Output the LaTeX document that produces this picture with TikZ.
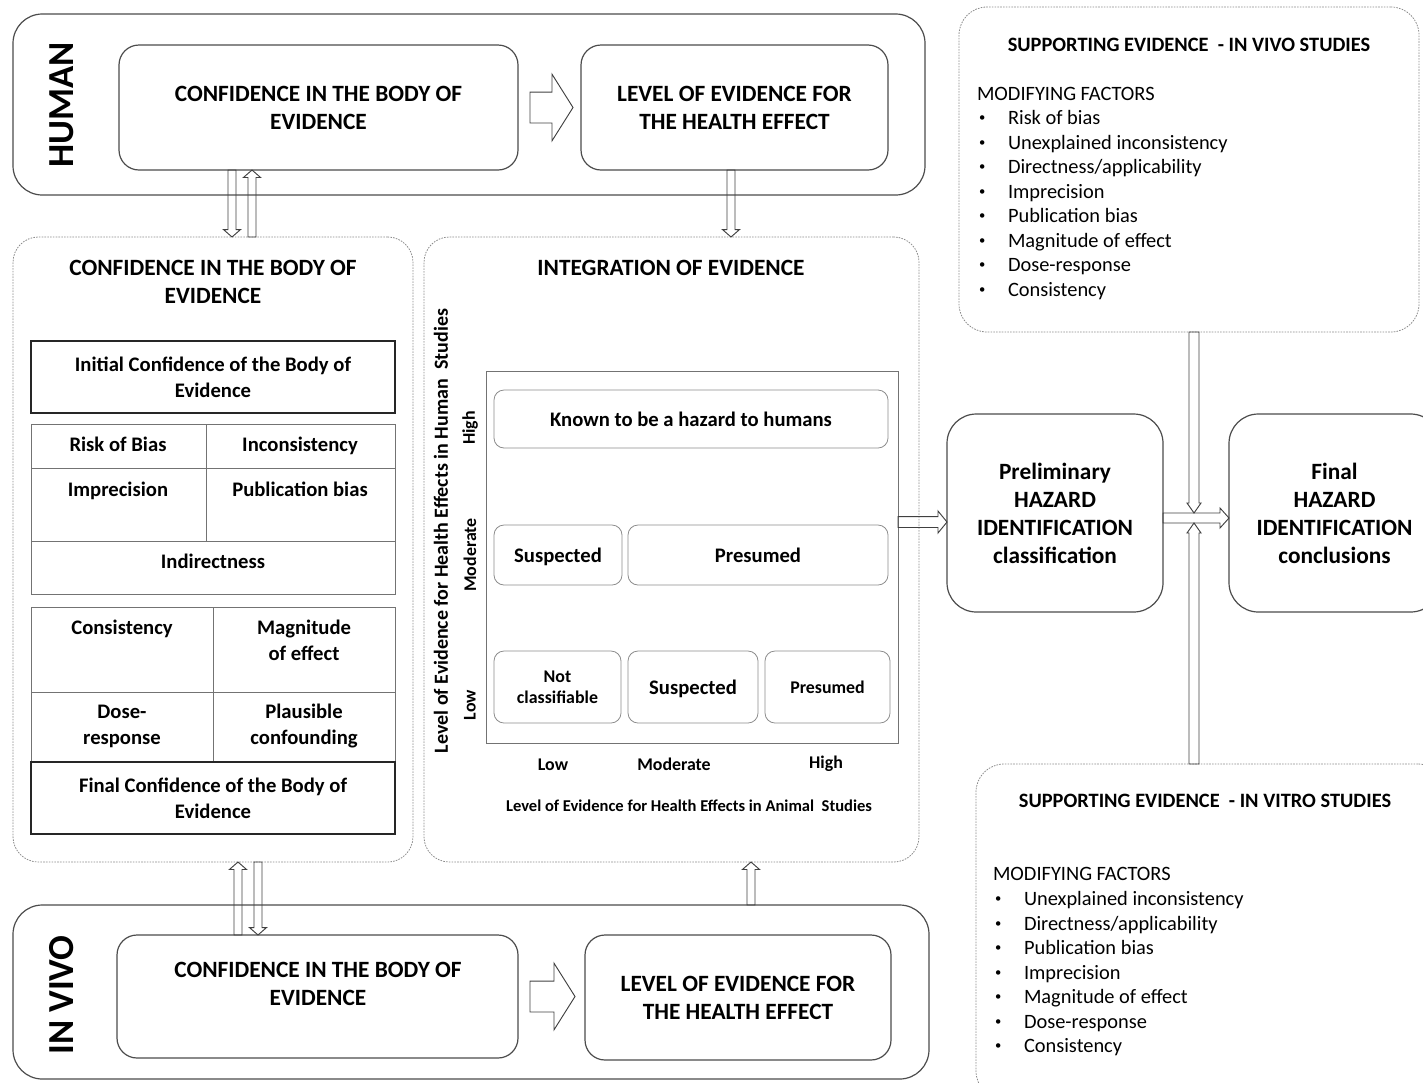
\documentclass[tikz,border=0pt]{standalone}
\usepackage{fontspec}
\usepackage{graphicx}
\setmainfont{Carlito}
\usetikzlibrary{calc}

\newcommand{\smallbullet}{\raisebox{0.13em}{\scalebox{0.62}{\textbullet}}}

\tikzset{
  pxsize/.style 2 args={minimum width=#1*0.75pt, minimum height=#2*0.75pt},
  outerbox/.style={draw=black!70, line width=0.9pt, rounded corners=22pt, anchor=north west},
  innerbox/.style={draw=black!70, line width=0.9pt, rounded corners=15pt, anchor=north west},
  bigbox/.style={draw=black!70, line width=0.9pt, rounded corners=22pt, anchor=north west},
  panel/.style={draw=black!45, line width=0.6pt, dash pattern=on 1.2pt off 0.9pt, rounded corners=19pt, anchor=north west},
  cell/.style={draw=black!55, line width=0.6pt, anchor=north west},
  strongcell/.style={draw=black!85, line width=0.9pt, anchor=north west},
  tile/.style={draw=black!45, line width=0.6pt, rounded corners=7.5pt, anchor=north west},
  onelineA/.style={text height=13pt, text depth=2pt},
  onelineB/.style={text height=11.3pt, text depth=1.7pt},
  fhuge/.style={font=\fontsize{27.5}{33}\selectfont\bfseries},
  fbig/.style={font=\fontsize{17.5}{21}\selectfont\bfseries, align=center},
  fcell/.style={font=\fontsize{15.5}{19.5}\selectfont\bfseries, align=center},
  celllbl/.style={font=\fontsize{15.5}{19.5}\selectfont\bfseries, anchor=base},
  fsmall/.style={font=\fontsize{13.4}{16}\selectfont\bfseries, align=center},
  fylab/.style={font=\fontsize{15}{18}\selectfont\bfseries},
  fxlab/.style={font=\fontsize{12.4}{15}\selectfont\bfseries},
  flist/.style={font=\fontsize{15.3}{18.4}\selectfont, anchor=base west},
  fsup/.style={font=\fontsize{15.3}{18.4}\selectfont\bfseries},
  hollow/.style={draw=black!75, line width=0.7pt, line join=miter},
  % outlined block arrow: body half width, head half width, head length
  blockarrow/.style n args={3}{
    to path={
      ($(\tikztostart)!#1!90:(\tikztotarget)$)
      -- ($(\tikztotarget)!#3!(\tikztostart)!#1!90:(\tikztotarget)$)
      -- ($(\tikztotarget)!#3!(\tikztostart)!#2!90:(\tikztotarget)$)
      -- (\tikztotarget)
      -- ($(\tikztotarget)!#3!(\tikztostart)!#2!-90:(\tikztotarget)$)
      -- ($(\tikztotarget)!#3!(\tikztostart)!#1!-90:(\tikztotarget)$)
      -- ($(\tikztostart)!#1!-90:(\tikztotarget)$)
      -- cycle
    }
  },
}

\begin{document}
\begin{tikzpicture}[x=0.75pt, y=-0.75pt, every node/.style={inner sep=0pt, outer sep=0pt}]
\useasboundingbox (0,0) rectangle (1423,1082);
\clip (0,0) rectangle (1423,1082);

% ---------- HUMAN stream ----------
\node[outerbox, pxsize={912}{181}] (human) at (13,14) {};
\node[fhuge, rotate=90] (humanlbl) at (62,105) {HUMAN};
\node[innerbox, fbig, pxsize={399}{125}] (hconf) at (119,45) {CONFIDENCE IN THE BODY OF\\EVIDENCE};
\node[innerbox, fbig, pxsize={307}{125}] (hlevel) at (581,45) {LEVEL OF EVIDENCE FOR\\THE HEALTH EFFECT};

% ---------- confidence panel ----------
\node[panel, pxsize={400}{625}] (lpanel) at (13,237) {};
\node[fbig] (ltitle) at (213,281.5) {CONFIDENCE IN THE BODY OF\\EVIDENCE};
\node[strongcell, fcell, pxsize={364}{72}] (init) at (31,341) {Initial Confidence of the Body of\\Evidence};

\node[cell, pxsize={175}{44}] (rob) at (31,424) {};
\node[cell, pxsize={189}{44}] (inc) at (206,424) {};
\node[cell, pxsize={175}{73}] (imp) at (31,468) {};
\node[cell, pxsize={189}{73}] (pub) at (206,468) {};
\node[cell, pxsize={364}{53}] (ind) at (31,541) {};
\node[celllbl] (t-rob) at (118,451.5) {Risk of Bias};
\node[celllbl] (t-inc) at (300,451.5) {Inconsistency};
\node[celllbl] (t-imp) at (118,496.5) {Imprecision};
\node[celllbl] (t-pub) at (300,496.5) {Publication bias};
\node[celllbl] (t-ind) at (213,568.5) {Indirectness};

\node[cell, pxsize={182}{85}] (cons) at (31,607) {};
\node[cell, pxsize={182}{85}] (mag) at (213,607) {};
\node[cell, pxsize={182}{70}] (dose) at (31,692) {};
\node[cell, pxsize={182}{70}] (plaus) at (213,692) {};
\node[strongcell, fcell, pxsize={364}{72}] (final-conf) at (31,762) {Final Confidence of the Body of\\Evidence};
\node[celllbl] (t-cons) at (122,634.5) {Consistency};
\node[fcell] (t-mag) at (304,640) {Magnitude\\of effect};
\node[fcell] (t-dose) at (122,726) {Dose-\\response};
\node[fcell] (t-plaus) at (304,726) {Plausible\\confounding};

% ---------- integration panel ----------
\node[panel, pxsize={495}{625}] (ipanel) at (424,237) {};
\node[fbig] (ititle) at (671,268) {INTEGRATION OF EVIDENCE};
\node[fylab, rotate=90] (ylab) at (441,531) {Level of Evidence for Health Effects in Human\ \ Studies};
\node[fsmall, rotate=90] (r-high) at (470,428) {High};
\node[fsmall, rotate=90] (r-mod) at (470,555) {Moderate};
\node[fsmall, rotate=90] (r-low) at (470,705) {Low};
\node[cell, pxsize={412}{372}] (igrid) at (486,371) {};
\node[tile, fcell, onelineA, pxsize={394}{58}] (known) at (494,390) {Known to be a hazard to humans};
\node[tile, fcell, onelineA, pxsize={128}{60}] (susp1) at (494,525) {Suspected};
\node[tile, fcell, onelineA, pxsize={260}{60}] (pres1) at (628,525) {Presumed};
\node[tile, fsmall, pxsize={127}{72}] (notc) at (494,651) {Not\\classifiable};
\node[tile, fcell, onelineA, pxsize={130}{72}] (susp2) at (628,651) {Suspected};
\node[tile, fsmall, onelineB, pxsize={125}{72}] (pres2) at (765,651) {Presumed};
\node[fsmall, onelineB] (c-low) at (553,764) {Low};
\node[fsmall, onelineB] (c-mod) at (674,764) {Moderate};
\node[fsmall, onelineB] (c-high) at (826,762) {High};
\node[fxlab] (xlab) at (689,806) {Level of Evidence for Health Effects in Animal\ \ Studies};

% ---------- hazard identification ----------
\node[bigbox, fbig, pxsize={216}{198}] (prelim) at (947,414) {Preliminary\\HAZARD\\IDENTIFICATION\\classification};
\node[bigbox, fbig, pxsize={211}{198}] (final) at (1229,414) {Final\\HAZARD\\IDENTIFICATION\\conclusions};

% ---------- supporting evidence ----------
\node[panel, rounded corners=21pt, pxsize={460}{325}] (svivo) at (959,7) {};
\node[fsup] (svivo-title) at (1189,45) {SUPPORTING EVIDENCE\ \ - IN VIVO STUDIES};
\node[flist] (svivo-head) at (977,100.5) {MODIFYING FACTORS};
\foreach \t [count=\i] in {Risk of bias, Unexplained inconsistency, Directness/applicability, Imprecision, Publication bias, Magnitude of effect, Dose-response, Consistency} {
  \node[flist] (svb\i) at (979,{100+24.5*\i}) {\smallbullet};
  \node[flist] (svi\i) at (1008,{100+24.5*\i}) {\t};
}

\node[panel, rounded corners=21pt, pxsize={470}{335}] (svitro) at (976,764) {};
\node[fsup] (svitro-title) at (1205,801) {SUPPORTING EVIDENCE\ \ - IN VITRO STUDIES};
\node[flist] (svitro-head) at (993,880.5) {MODIFYING FACTORS};
\foreach \t [count=\i] in {Unexplained inconsistency, Directness/applicability, Publication bias, Imprecision, Magnitude of effect, Dose-response, Consistency} {
  \node[flist] (stb\i) at (995,{881+24.5*\i}) {\smallbullet};
  \node[flist] (sti\i) at (1024,{881+24.5*\i}) {\t};
}

% ---------- IN VIVO stream ----------
\node[outerbox, pxsize={916}{174}] (vivo) at (13,905) {};
\node[fhuge, rotate=90] (vivolbl) at (62,995) {IN VIVO};
\node[innerbox, pxsize={401}{123}] (vconf) at (117,935) {};
\node[fbig] (t-vconf) at (318,984) {CONFIDENCE IN THE BODY OF\\EVIDENCE};
\node[innerbox, fbig, pxsize={306}{125}] (vlevel) at (585,935) {LEVEL OF EVIDENCE FOR\\THE HEALTH EFFECT};

% ---------- connectors ----------
\coordinate (xa) at (232,0);
\coordinate (xb) at (252,0);
\coordinate (xc) at (731,0);
\coordinate (xd) at (238,0);
\coordinate (xe) at (258,0);
\coordinate (xf) at (751,0);
\coordinate (jx) at (1194,0);

\coordinate (ha1) at ($(hconf.east)+(12,0)$);
\coordinate (ha2) at ($(hlevel.west)+(-8,0)$);
\draw[hollow] (ha1) to[blockarrow={11.6pt}{25pt}{15.75pt}] (ha2);

\coordinate (va1) at ($(vconf.east)+(12,0)$);
\coordinate (va2) at ($(va1 -| vlevel.west)+(-10,0)$);
\draw[hollow] (va1) to[blockarrow={11.6pt}{25pt}{15.75pt}] (va2);

\draw[hollow] (hconf.south -| xa) to[blockarrow={3pt}{6.4pt}{5.6pt}] (lpanel.north -| xa);
\draw[hollow] (lpanel.north -| xb) to[blockarrow={3pt}{6.4pt}{5.6pt}] (hconf.south -| xb);
\draw[hollow] (hlevel.south -| xc) to[blockarrow={3pt}{6.4pt}{5.6pt}] (ipanel.north -| xc);

\draw[hollow] (vconf.north -| xd) to[blockarrow={3pt}{6.4pt}{5.6pt}] (lpanel.south -| xd);
\draw[hollow] (lpanel.south -| xe) to[blockarrow={3pt}{6.4pt}{5.6pt}] (vconf.north -| xe);
\draw[hollow] (vivo.north -| xf) to[blockarrow={3pt}{6.4pt}{5.6pt}] (ipanel.south -| xf);

\coordinate (pin) at ($(prelim.west)+(0,9)$);
\draw[hollow] (igrid.east |- pin) to[blockarrow={4.1pt}{8.25pt}{6.75pt}] (pin);

\coordinate (pout) at ($(prelim.east)+(0,5)$);
\coordinate (jtop) at ($(pout -| jx)+(0,-5)$);
\coordinate (jbot) at ($(pout -| jx)+(0,5)$);
\draw[hollow] (svivo.south -| jx) to[blockarrow={3.75pt}{5.25pt}{7.5pt}] (jtop);
\draw[hollow] (svitro.north -| jx) to[blockarrow={3.75pt}{5.25pt}{7.5pt}] (jbot);
\draw[hollow] (pout) to[blockarrow={3.75pt}{7.5pt}{6.75pt}] (pout -| final.west);
\end{tikzpicture}
\end{document}
